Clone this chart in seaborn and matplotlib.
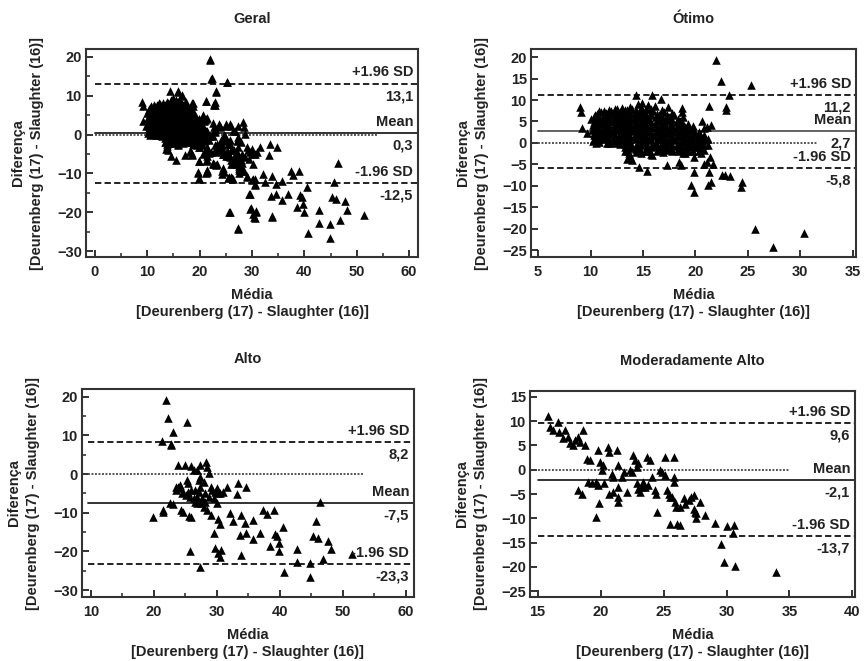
import numpy as np
import pandas as pd
import matplotlib
matplotlib.use("Agg")
import matplotlib.pyplot as plt
from matplotlib.ticker import MultipleLocator
import seaborn as sns

# ── Data (média, diferença) ───────────────────────────────────────────────────
otimo = [
    (9.0, 8.3), (9.1, 7.3), (9.2, 3.4), (9.7, 2.2), (10.5, -0.1), (11.6, -0.1), (10.8, 1.5),
    (13.5, -3.8), (14.0, -4.0), (13.7, -2.4), (14.6, -5.5), (15.4, -6.5), (15.9, -2.8),
    (17.3, -5.2), (18.4, -4.4), (18.6, -5.2), (19.0, -2.4), (19.9, -3.2), (19.8, 4.0),
    (19.9, -6.7), (19.6, -9.8), (19.9, -11.4), (20.6, 5.0), (20.8, 3.4), (21.1, 3.8),
    (21.5, 4.2), (20.5, -2.4), (20.8, -4.8), (21.1, -4.4), (21.4, -3.2), (21.7, -4.8),
    (21.3, -6.7), (21.5, -9.0), (21.2, -9.8), (22.5, -7.5), (22.8, -7.5), (23.3, -7.7),
    (24.4, -9.1), (24.3, -10.2), (25.7, -20.0), (27.4, -24.2), (30.3, -21.1),
    (22.0, 19.4), (22.4, 14.5), (25.3, 13.5), (23.2, 11.2), (22.9, 7.7), (22.9, 8.3),
    (21.3, 8.5), (14.3, 11.2), (15.9, 11.2), (16.7, 10.2), (14.9, 9.3), (16.1, 8.6),
    (17.4, 8.3), (18.7, 8.1), (18.7, 7.3),
    (10.0, 5.5), (10.2, 4.2), (10.1, 3.0), (10.3, 1.8), (10.4, 6.5), (10.2, 0.5),
    (10.6, 6.8), (10.5, 5.0), (10.7, 3.6), (10.6, 2.4), (10.8, 1.0), (10.9, 4.4),
    (11.0, 7.2), (11.2, 6.0), (11.1, 4.8), (11.3, 3.4), (11.0, 2.1), (11.2, 0.8), (11.4, 5.5),
    (11.5, 7.0), (11.7, 5.8), (11.6, 4.5), (11.8, 3.2), (11.5, 1.6), (11.9, 0.4), (11.6, 6.4), (11.7, 2.6),
    (12.0, 7.4), (12.2, 6.2), (12.1, 5.0), (12.3, 3.8), (12.0, 2.5), (12.2, 1.2), (12.4, 0.0), (12.3, 4.4),
    (12.5, 7.8), (12.7, 6.5), (12.6, 5.2), (12.8, 4.0), (12.5, 2.9), (12.7, 1.5), (12.9, 0.6), (12.6, 3.4),
    (13.0, 8.2), (13.2, 7.0), (13.1, 5.6), (13.3, 4.3), (13.0, 3.0), (13.2, 1.8), (13.4, 0.4), (13.3, -1.0), (13.1, 2.4),
    (13.5, 7.6), (13.7, 6.2), (13.6, 5.0), (13.8, 3.7), (13.5, 2.4), (13.7, 1.0), (13.9, -0.5), (13.6, -2.0), (13.8, 4.4),
    (14.0, 8.0), (14.2, 6.7), (14.1, 5.4), (14.3, 4.0), (14.0, 2.7), (14.2, 1.3), (14.4, -0.2), (14.3, -1.5), (14.1, 3.3),
    (14.5, 9.0), (14.7, 7.2), (14.6, 5.8), (14.8, 4.5), (14.5, 3.1), (14.7, 1.8), (14.9, 0.3), (14.6, -1.2), (14.8, -2.3),
    (15.0, 7.5), (15.2, 6.0), (15.1, 4.6), (15.3, 3.2), (15.0, 2.0), (15.2, 0.7), (15.4, -0.8), (15.3, -2.0), (15.1, 5.2),
    (15.5, 8.8), (15.7, 6.8), (15.6, 5.3), (15.8, 3.9), (15.5, 2.5), (15.7, 1.1), (15.9, -0.5), (15.6, -1.8),
    (16.0, 7.4), (16.2, 6.0), (16.1, 4.5), (16.3, 3.0), (16.0, 1.5), (16.2, 0.0), (16.4, -1.5), (16.3, 2.3),
    (16.5, 6.5), (16.7, 5.0), (16.6, 3.6), (16.8, 2.2), (16.5, 0.8), (16.7, -0.7), (16.9, -2.2),
    (17.0, 7.2), (17.2, 5.6), (17.1, 4.0), (17.3, 2.6), (17.0, 1.2), (17.2, -0.2), (17.4, -1.6),
    (17.5, 6.0), (17.7, 4.4), (17.6, 3.0), (17.8, 1.6), (17.5, 0.2), (17.7, -1.2),
    (18.0, 6.5), (18.2, 4.8), (18.1, 3.3), (18.3, 2.0), (18.0, 0.6), (18.2, -0.8), (18.4, -2.0),
    (18.5, 5.0), (18.7, 3.5), (18.6, 2.2), (18.8, 0.9), (18.5, -0.5), (18.7, -1.7),
    (19.0, 3.6), (19.2, 2.4), (19.1, 1.0), (19.3, -0.3), (19.0, -1.5),
    (19.5, 2.8), (19.7, 1.5), (19.6, 0.2), (19.8, -1.0),
    (20.0, 2.0), (20.2, 0.8), (20.1, -0.4), (20.5, 1.2), (20.6, 0.0),
    # second pass over the dense cloud
    (10.3, 6.1), (10.3, 4.8), (10.3, 3.5), (10.3, 2.2), (10.3, 0.9),
    (10.8, 7.4), (10.8, 6.0), (10.8, 4.6), (10.8, 3.0), (10.8, 1.6), (10.8, 0.3),
    (11.3, 7.5), (11.3, 6.3), (11.3, 5.0), (11.3, 3.9), (11.3, 2.7), (11.3, 1.3),
    (11.8, 7.6), (11.8, 6.8), (11.8, 5.2), (11.8, 4.0), (11.8, 2.0), (11.8, 1.0), (11.8, 0.0),
    (12.3, 8.0), (12.3, 6.9), (12.3, 5.6), (12.3, 4.9), (12.3, 3.2), (12.3, 1.9), (12.3, 0.6),
    (12.8, 7.3), (12.8, 6.0), (12.8, 4.6), (12.8, 3.6), (12.8, 2.2), (12.8, 1.0), (12.8, -0.3),
    (13.3, 7.6), (13.3, 6.4), (13.3, 5.0), (13.3, 3.6), (13.3, 2.2), (13.3, 0.9), (13.3, -0.2), (13.3, -1.8),
    (13.8, 8.4), (13.8, 7.0), (13.8, 5.6), (13.8, 4.2), (13.8, 3.0), (13.8, 1.6), (13.8, 0.3), (13.8, -1.2), (13.8, -3.0),
    (14.3, 7.6), (14.3, 6.2), (14.3, 4.8), (14.3, 3.6), (14.3, 2.2), (14.3, 0.8), (14.3, -0.8), (14.3, -2.2),
    (14.8, 8.2), (14.8, 6.6), (14.8, 5.2), (14.8, 3.8), (14.8, 2.4), (14.8, 1.0), (14.8, -0.6), (14.8, -1.8),
    (15.3, 8.0), (15.3, 6.6), (15.3, 5.6), (15.3, 4.2), (15.3, 2.8), (15.3, 1.4), (15.3, 0.0), (15.3, -1.4),
    (15.8, 7.8), (15.8, 6.4), (15.8, 4.8), (15.8, 3.4), (15.8, 2.0), (15.8, 0.6), (15.8, -1.0), (15.8, -2.5),
    (16.3, 6.8), (16.3, 5.4), (16.3, 3.8), (16.3, 2.6), (16.3, 1.0), (16.3, -0.8), (16.3, -2.0),
    (16.8, 7.6), (16.8, 6.0), (16.8, 4.3), (16.8, 3.0), (16.8, 1.6), (16.8, 0.2), (16.8, -1.2),
    (17.3, 6.6), (17.3, 5.0), (17.3, 3.4), (17.3, 2.0), (17.3, 0.6), (17.3, -0.9),
    (17.8, 7.0), (17.8, 5.4), (17.8, 3.8), (17.8, 2.5), (17.8, 1.0), (17.8, -0.4), (17.8, -1.8),
    (18.3, 5.6), (18.3, 4.2), (18.3, 2.8), (18.3, 1.4), (18.3, 0.0), (18.3, -1.4),
    (18.8, 6.0), (18.8, 4.4), (18.8, 3.0), (18.8, 1.6), (18.8, 0.2), (18.8, -1.2), (18.8, -2.4),
    (19.3, 4.4), (19.3, 3.0), (19.3, 1.7), (19.3, 0.4), (19.3, -0.8), (19.3, -2.0),
    (19.8, 3.3), (19.8, 2.0), (19.8, 0.6), (19.8, -0.6), (19.8, -1.8),
    (20.3, 2.6), (20.3, 1.5), (20.3, 0.3), (20.3, -0.9), (20.3, -2.0),
    (20.8, 1.8), (20.8, 0.6), (20.8, -0.6), (20.8, -1.6), (21.2, 1.0), (21.2, -0.4),
]

alto = [
    (21.9, 19.1), (22.2, 14.4), (23.1, 10.9), (21.3, 8.5), (22.8, 7.9), (22.8, 7.5), (25.2, 13.4),
    (19.9, -11.2), (21.4, -9.7), (21.5, -9.3), (22.6, -7.4), (23.1, -7.8), (23.8, 2.3),
    (23.5, -4.1), (23.9, -3.3), (24.2, -2.8), (24.4, -5.0), (24.3, -9.3), (24.6, -9.7),
    (25.0, 2.3), (25.2, -1.6), (25.5, -2.4), (25.5, -4.6), (25.75, -5.9), (25.6, -10.9),
    (25.9, -11.0), (25.75, -19.8), (25.9, 2.1), (26.3, 1.0), (26.5, -4.1), (26.8, -5.9),
    (26.9, -7.6), (27.1, -1.6), (27.3, -3.3), (27.6, -6.3), (27.4, -24.0), (27.9, -2.0),
    (28.1, -5.0), (28.3, 3.2), (28.5, 1.9), (28.7, 0.2), (28.4, -9.3), (29.0, -10.6),
    (29.2, -4.1), (29.5, -15.2), (29.7, -19.2), (30.0, -3.7), (30.1, -7.6), (30.2, -5.0),
    (30.2, -11.5), (30.5, -12.8), (30.2, -20.5), (30.5, -21.4), (30.7, -19.7), (31.0, -4.6),
    (31.6, -3.3), (32.1, -10.2), (32.5, -12.1), (33.2, -5.2), (33.4, -2.4), (33.7, -15.8),
    (33.8, -10.6), (33.8, -20.9), (34.5, -12.6), (34.7, -3.3), (34.6, -15.2), (35.7, -11.9),
    (35.8, -16.9), (36.9, -15.2), (37.4, -9.3), (37.9, -10.3), (38.5, -18.6), (39.0, -9.3),
    (39.2, -15.5), (39.6, -16.0), (39.8, -17.9), (39.9, -19.8), (40.5, -13.6), (40.7, -25.3),
    (42.7, -19.5), (42.8, -22.7), (44.8, -23.1), (44.8, -26.6), (45.3, -16.0), (45.7, -12.1),
    (46.1, -16.6), (46.4, -7.2), (46.9, -21.9), (47.7, -17.2), (48.2, -19.5), (51.4, -20.7),
    (23.5, -3.3), (24.0, -3.7), (24.7, -4.6), (25.1, -5.4), (25.9, -4.0), (26.3, -6.3),
    (26.6, -7.2), (27.2, -4.6), (27.5, -7.6), (27.9, -8.4), (28.1, -7.2), (28.7, -5.9),
    (29.0, -3.3), (29.5, -6.3), (29.7, -4.6), (30.5, -5.0), (27.3, -0.7), (26.8, 1.0), (27.3, 2.3),
]

mod_alto = [
    (15.85, 11.0), (16.0, 8.8), (16.2, 8.1), (16.6, 9.9), (16.7, 7.8), (17.0, 6.6), (17.2, 8.1),
    (17.4, 6.8), (17.6, 5.4), (17.8, 5.1), (18.0, 6.1), (18.2, 6.8), (18.4, 5.7), (18.6, 8.1),
    (18.8, 5.1), (18.2, -4.2), (18.5, -4.9), (18.9, 2.3), (19.2, 1.96), (19.0, -2.5), (19.3, -2.8),
    (19.6, -2.5), (19.6, -9.7), (19.8, 4.0), (19.95, 1.6), (20.1, -0.1), (20.2, 0.9), (19.8, -3.2),
    (19.9, -6.8), (20.3, -2.8), (20.6, 4.7), (20.7, 3.7), (20.9, -0.8), (21.0, -1.5), (20.7, -4.9),
    (21.0, -4.6), (21.3, 4.0), (21.35, 0.9), (21.4, -3.5), (21.4, -5.6), (21.4, -6.6), (21.7, -1.5),
    (21.9, -0.4), (22.1, -4.6), (22.3, 0.0), (22.5, -0.4), (22.6, 3.0), (22.7, 2.0), (22.9, 0.6),
    (23.0, 1.3), (22.9, -2.8), (23.0, -3.9), (23.1, -4.6), (23.3, -3.5), (23.4, -2.5), (23.5, -3.5),
    (23.7, 2.6), (23.8, -3.2), (23.9, 2.0), (24.1, -1.5), (24.3, -4.2), (24.4, -4.9), (24.5, -8.7),
    (24.7, -0.1), (24.85, -0.4), (25.1, -1.1), (25.1, 2.6), (25.3, -4.2), (25.4, -4.9), (25.5, -5.6),
    (25.5, -11.1), (25.8, -1.5), (25.85, 2.6), (25.85, -2.5), (25.7, -5.6), (25.9, -6.6), (26.1, -11.1),
    (26.3, -11.4), (26.0, -7.6), (26.3, -7.6), (26.6, -5.9), (26.7, -7.0), (27.0, -6.3), (27.2, -5.6),
    (27.4, -5.2), (27.45, -8.0), (27.5, -8.7), (27.6, -10.0), (27.6, -9.0), (27.9, -6.6), (28.3, -9.4),
    (29.1, -10.9), (29.6, -15.2), (29.8, -19.0), (30.0, -11.6), (30.5, -13.1), (30.6, -11.4),
    (30.7, -19.9), (33.9, -21.1),
]

# mean and limits of agreement (printed values)
geral_stats = (0.3, 13.1, -12.5)
otimo_stats = (2.7, 11.2, -5.8)
alto_stats = (-7.5, 8.2, -23.3)
mod_stats = (-2.1, 9.6, -13.7)

TXT = "#222222"
sns.set_style("white")
plt.rcParams["font.family"] = ["Liberation Sans", "DejaVu Sans"]
plt.rcParams["font.weight"] = "bold"

fig = plt.figure(figsize=(8.64, 6.61), dpi=100)
W, H = 864, 661


def make_ax(l, r, t, b):
    return fig.add_axes([l / W, 1 - b / H, (r - l) / W, (b - t) / H])


def panel(ax, pts, stats, title, xlim, ylim, xmaj, ymaj, minor, x0, zero_end, mean_col):
    df = pd.DataFrame(pts, columns=["media", "dif"])
    sns.scatterplot(data=df, x="media", y="dif", marker="^", color="black",
                    s=38, linewidth=0, ax=ax, zorder=3)
    mean, up, lo = stats
    ax.plot([x0, xlim[1]], [up, up], color="#111", lw=1.3, ls=(0, (3.5, 1.8)))
    ax.plot([x0, xlim[1]], [lo, lo], color="#111", lw=1.3, ls=(0, (3.5, 1.8)))
    ax.plot([x0, xlim[1]], [mean, mean], color=mean_col, lw=1.3)
    ax.plot([x0, zero_end], [0, 0], color="#555", lw=1.4, ls=(0, (1, 0.8)))

    fmt = lambda v: f"{v:.1f}".replace(".", ",")
    for val, lab in [(up, "+1.96 SD"), (mean, "Mean"), (lo, "-1.96 SD")]:
        ax.annotate(lab, xy=(0.985, val), xycoords=("axes fraction", "data"),
                    xytext=(0, 3), textcoords="offset points", ha="right",
                    va="bottom", fontsize=10.5, fontweight="bold", color=TXT)
        ax.annotate(fmt(val), xy=(0.985, val), xycoords=("axes fraction", "data"),
                    xytext=(0, -4), textcoords="offset points", ha="right",
                    va="top", fontsize=10.5, fontweight="bold", color=TXT)

    ax.set_xlim(*xlim)
    ax.set_ylim(*ylim)
    ax.xaxis.set_major_locator(MultipleLocator(xmaj))
    ax.yaxis.set_major_locator(MultipleLocator(ymaj))
    if minor:
        ax.xaxis.set_minor_locator(MultipleLocator(xmaj / 2))
        ax.yaxis.set_minor_locator(MultipleLocator(ymaj / 2))
    ax.tick_params(which="major", direction="in", length=5, width=1.3,
                   labelsize=10.5, colors="#222", top=False, right=False)
    ax.tick_params(axis="x", which="major", pad=6)
    ax.tick_params(axis="y", which="major", pad=3)
    ax.tick_params(which="minor", direction="in", length=3, width=1.1,
                   top=False, right=False)
    ax.tick_params(axis="both", which="both", bottom=True, left=True)
    for lb in ax.get_xticklabels() + ax.get_yticklabels():
        lb.set_fontweight("bold")
    for sp in ax.spines.values():
        sp.set_linewidth(1.5)
        sp.set_color("#333")
    ax.set_title(title, fontsize=10.5, fontweight="bold", color=TXT, pad=19)
    ax.set_xlabel("Média\n[Deurenberg (17) - Slaughter (16)]", fontsize=10.5,
                  fontweight="bold", color=TXT, linespacing=1.3, labelpad=6)
    ax.set_ylabel("Diferença\n[Deurenberg (17) - Slaughter (16)]", fontsize=10.5,
                  fontweight="bold", color=TXT, linespacing=1.5, labelpad=9)


ax1 = make_ax(86, 418, 49, 257)
panel(ax1, otimo + alto + mod_alto, geral_stats, "Geral", (-1.7, 61.7), (-31.5, 22),
      10, 10, True, 0, 54, "#222")

ax2 = make_ax(531, 856, 49, 257)
panel(ax2, otimo, otimo_stats, "Ótimo", (4.33, 35.3), (-26.6, 21.9),
      5, 5, False, 5, 31.6, "#555")

ax3 = make_ax(82, 414, 389, 597)
panel(ax3, alto, alto_stats, "Alto", (8.6, 61.3), (-31.8, 22),
      10, 10, True, 9.5, 53.2, "#222")

ax4 = make_ax(530, 855, 391, 597)
panel(ax4, mod_alto, mod_stats, "Moderadamente Alto", (14.4, 40.2), (-26.2, 16.2),
      5, 5, False, 15, 35, "#222")

fig.savefig("out.png", dpi=100, facecolor="white")
